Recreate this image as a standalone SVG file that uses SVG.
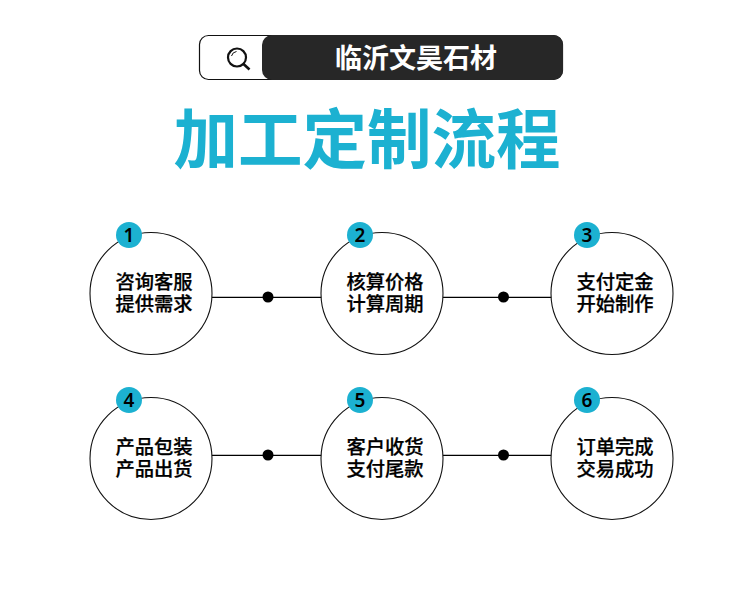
<svg xmlns="http://www.w3.org/2000/svg" width="750" height="605" viewBox="0 0 750 605">
<style>
text{font-family:"Noto Sans CJK SC","Noto Sans",sans-serif;text-anchor:middle}
.c{fill:#fff;stroke:#111;stroke-width:1.100}
.b{fill:#1cb1d1}
.n{font-size:19px;font-weight:600;fill:#000;font-family:"Noto Sans",sans-serif}
.t{font-size:19.300px;font-weight:500;fill:#000;stroke:#000;stroke-width:.25px}
.l{stroke:#000;stroke-width:1.200;fill:none}
</style>
<rect width="750" height="605" fill="#fff"/>
<g id="search">
<rect x="199.500" y="35.500" width="363" height="44" rx="9" fill="#fff" stroke="#111" stroke-width="1.200"/>
<rect x="262" y="35" width="301" height="45" rx="10" fill="#272727"/>
<circle cx="237" cy="57.500" r="9" fill="none" stroke="#111" stroke-width="2.200"/>
<path d="M231.500 56a6 6 0 0 1 5-4.500" fill="none" stroke="#111" stroke-width="1"/>
<line x1="243.500" y1="64" x2="249.500" y2="69.500" stroke="#111" stroke-width="2.600"/>
<text x="416" y="67.500" font-size="27" font-weight="700" fill="#fff">临沂文昊石材</text>
</g>
<text id="title" x="367" y="163" font-size="64.500" font-weight="700" fill="#1cb1d1">加工定制流程</text>
<g id="connectors">
<line class="l" x1="212" y1="297.300" x2="322" y2="297.300"/><circle cx="268" cy="297" r="5.500"/>
<line class="l" x1="443" y1="297.300" x2="552" y2="297.300"/><circle cx="503.500" cy="297" r="5.500"/>
<line class="l" x1="212" y1="455.300" x2="322" y2="455.300"/><circle cx="268" cy="455" r="5.500"/>
<line class="l" x1="443" y1="455.300" x2="552" y2="455.300"/><circle cx="503.500" cy="455" r="5.500"/>
</g>
<g id="node1"><circle class="c" cx="151" cy="293.500" r="61"/><circle class="b" cx="129" cy="235" r="13"/><text class="n" x="129" y="242">1</text><text class="t" x="154" y="288.500">咨询客服</text><text class="t" x="154" y="310.500">提供需求</text></g>
<g id="node2"><circle class="c" cx="382" cy="293.500" r="61"/><circle class="b" cx="360" cy="235" r="13"/><text class="n" x="360" y="242">2</text><text class="t" x="385" y="288.500">核算价格</text><text class="t" x="385" y="310.500">计算周期</text></g>
<g id="node3"><circle class="c" cx="612" cy="293.500" r="61"/><circle class="b" cx="587" cy="235" r="13"/><text class="n" x="587" y="242">3</text><text class="t" x="615" y="288.500">支付定金</text><text class="t" x="615" y="310.500">开始制作</text></g>
<g id="node4"><circle class="c" cx="151" cy="458.500" r="61"/><circle class="b" cx="129" cy="400" r="13"/><text class="n" x="129" y="407">4</text><text class="t" x="154" y="453.500">产品包装</text><text class="t" x="154" y="475.500">产品出货</text></g>
<g id="node5"><circle class="c" cx="382" cy="458.500" r="61"/><circle class="b" cx="360" cy="400" r="13"/><text class="n" x="360" y="407">5</text><text class="t" x="385" y="453.500">客户收货</text><text class="t" x="385" y="475.500">支付尾款</text></g>
<g id="node6"><circle class="c" cx="612" cy="458.500" r="61"/><circle class="b" cx="587" cy="400" r="13"/><text class="n" x="587" y="407">6</text><text class="t" x="615" y="453.500">订单完成</text><text class="t" x="615" y="475.500">交易成功</text></g>
</svg>
